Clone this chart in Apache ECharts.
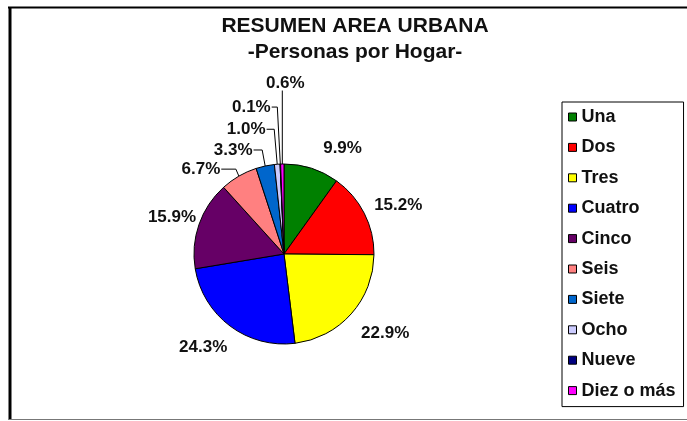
<!DOCTYPE html>
<html>
<head>
<meta charset="utf-8">
<script src="https://cdn.jsdelivr.net/npm/echarts@6/dist/echarts.min.js"></script>
<style>
  html, body { margin: 0; padding: 0; background: #fff; }
  #chart { width: 687px; height: 421px; }
</style>
</head>
<body>
<div id="chart"></div>
<script>
// data
var categories = ['Una', 'Dos', 'Tres', 'Cuatro', 'Cinco', 'Seis', 'Siete', 'Ocho', 'Nueve', 'Diez o más'];
var percents = [9.9, 15.2, 22.9, 24.3, 15.9, 6.7, 3.3, 1.0, 0.1, 0.6];
var sliceColors = ['#008000', '#ff0000', '#ffff00', '#0000ff', '#660066', '#ff8080', '#0066cc', '#ccccff', '#000080', '#ff00ff'];

var FONT = '"Liberation Sans", Arial, sans-serif';

// where each label sits, relative to its slice's edge point (Excel style)
var labelNudge = {
    0: [31, -20], 1: [34, -8], 2: [34, 19], 3: [-27, 21], 4: [-27, -7],
    5: [-38, -7], 6: [-32, -16], 7: [-31, -35], 8: [-29, -57], 9: [3, -81]
};

var chartDom = document.getElementById('chart');
var myChart = echarts.init(chartDom, null, { renderer: 'canvas' });

var pieData = [];
for (var i = 0; i < categories.length; i++) {
    pieData.push({ name: categories[i], value: percents[i], itemStyle: { color: sliceColors[i] } });
}

function placeLabel(params) {
    var pts = params.labelLinePoints;
    if (!pts) return {};
    var i = params.dataIndex;
    var a = pts[0];
    var n = labelNudge[i];
    var w = params.labelRect.width, h = params.labelRect.height;
    var cx = a[0] + n[0], cy = a[1] + n[1];
    var line;
    if (i < 5) {
        line = [a, a, a];
    } else if (i === 9) {
        line = [a, [a[0], a[1]], [a[0], cy + h / 2 - 1]];
    } else {
        line = [a, [a[0] - 3, cy], [cx + w / 2 + 1, cy]];
    }
    return { x: cx, y: cy, align: 'center', verticalAlign: 'middle', labelLinePoints: line };
}

var option = {
    animation: false,
    backgroundColor: '#fff',
    title: [
        {
            text: 'RESUMEN AREA URBANA',
            left: 350, top: 11, textAlign: 'center',
            textStyle: { fontFamily: FONT, fontSize: 21, fontWeight: 'bold', color: '#111' }
        },
        {
            text: '-Personas por Hogar-',
            left: 350, top: 37, textAlign: 'center',
            textStyle: { fontFamily: FONT, fontSize: 21, fontWeight: 'bold', color: '#111' }
        }
    ],
    legend: {
        orient: 'vertical',
        left: 562, top: 102,
        padding: [6, 8, 7, 6],
        borderColor: '#000', borderWidth: 1,
        itemWidth: 8, itemHeight: 8, itemGap: 12.4,
        icon: 'rect',
        itemStyle: { borderColor: '#000', borderWidth: 1 },
        textStyle: { fontFamily: FONT, fontSize: 18, fontWeight: 'bold', color: '#111', lineHeight: 18 },
        data: categories
    },
    graphic: [
        { type: 'line', shape: { x1: 8, y1: 7.5, x2: 687, y2: 7.5 }, style: { stroke: '#000', lineWidth: 2 } },
        { type: 'line', shape: { x1: 10, y1: 7, x2: 10, y2: 420 }, style: { stroke: '#000', lineWidth: 3 } },
        { type: 'line', shape: { x1: 9, y1: 419.5, x2: 687, y2: 419.5 }, style: { stroke: '#777', lineWidth: 1 } }
    ],
    series: [
        {
            type: 'pie',
            center: [284, 254],
            radius: 90,
            startAngle: 90,
            clockwise: true,
            avoidLabelOverlap: false,
            itemStyle: { borderColor: '#000', borderWidth: 1 },
            label: {
                show: true,
                position: 'outside',
                fontFamily: FONT, fontSize: 17, fontWeight: 'bold', color: '#111',
                formatter: function (p) { return p.value.toFixed(1) + '%'; }
            },
            labelLine: { show: true, length: 8, length2: 8, lineStyle: { color: '#000', width: 1 } },
            labelLayout: placeLabel,
            emphasis: { disabled: true },
            data: pieData
        }
    ]
};

option && myChart.setOption(option);
</script>
</body>
</html>
